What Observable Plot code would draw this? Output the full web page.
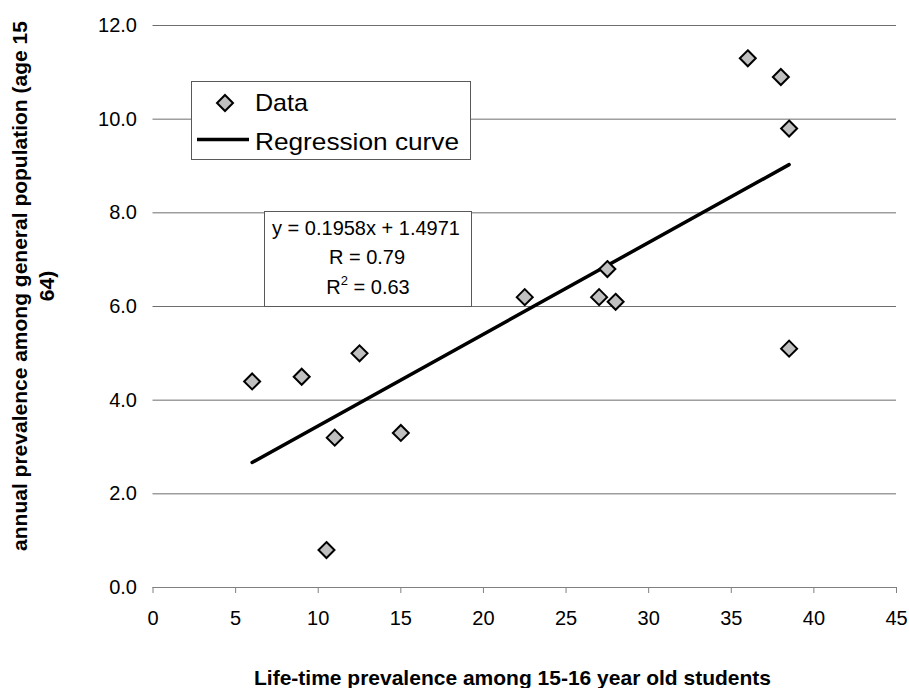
<!DOCTYPE html>
<html>
<head>
<meta charset="utf-8">
<script src="https://cdn.jsdelivr.net/npm/d3@7"></script>
<script src="https://cdn.jsdelivr.net/npm/@observablehq/plot@0.6"></script>
<style>
  body { margin: 0; background: #fff; }
  #chart svg { display: block; }
</style>
</head>
<body>
<div id="chart"></div>
<script>
// Data
const studentPrevalence = [6, 9, 10.5, 11, 12.5, 15, 22.5, 27, 27.5, 28, 36, 38, 38.5, 38.5];
const populationPrevalence = [4.4, 4.5, 0.8, 3.2, 5.0, 3.3, 6.2, 6.2, 6.8, 6.1, 11.3, 10.9, 9.8, 5.1];
const regressionX = [6, 38.5];
const regressionY = [2.67, 9.03];
const xTicks = [0, 5, 10, 15, 20, 25, 30, 35, 40, 45];
const yTicks = [0, 2, 4, 6, 8, 10, 12];
const legendLabels = ["Data", "Regression curve"];
const equationLines = ["y = 0.1958x + 1.4971", "R = 0.79", "R² = 0.63"];
const xTitle = "Life-time prevalence among 15-16 year old students";
const yTitleLines = ["annual prevalence among general population (age 15", "64)"];

const points = studentPrevalence.map((x, i) => ({x, y: populationPrevalence[i]}));
const regression = regressionX.map((x, i) => ({x, y: regressionY[i]}));

const FONT = "'Liberation Sans', Arial, Helvetica, sans-serif";
const W = 909, H = 688;

const chart = Plot.plot({
  width: W,
  height: H,
  marginLeft: 152.5,
  marginRight: 13,
  marginTop: 25,
  marginBottom: 101,
  style: {fontFamily: FONT, background: "#fff", overflow: "visible"},
  x: {domain: [0, 45]},
  y: {domain: [0, 12]},
  marks: [
    Plot.gridY(yTicks.filter(d => d > 0), {stroke: "#6e6e6e", strokeOpacity: 1, strokeWidth: 1}),
    Plot.ruleY([0], {stroke: "#808080", strokeWidth: 1}),
    Plot.axisX({ticks: xTicks, tickSize: 6, tickPadding: 17, stroke: "#808080", fontSize: 20, fill: "#000", label: null, tickFormat: d => String(d)}),
    Plot.axisY({ticks: yTicks, tickSize: 0, tickPadding: 16, fontSize: 20, fill: "#000", label: null, tickFormat: d => d.toFixed(1)}),
    Plot.line(regression, {x: "x", y: "y", stroke: "#000", strokeWidth: 3.5}),
    Plot.dot(points, {x: "x", y: "y", symbol: "diamond2", r: 7.2, fill: "#c0c0c0", stroke: "#000", strokeWidth: 2})
  ]
});

document.getElementById("chart").appendChild(chart);

const svg = d3.select(chart);

// Y title (rotated, two lines)
const yt = svg.append("text")
  .attr("transform", "translate(0,286) rotate(-90)")
  .attr("text-anchor", "middle")
  .style("font-family", FONT)
  .style("font-weight", "bold")
  .style("font-size", "21px")
  .attr("fill", "#000");
yt.append("tspan").attr("x", 0).attr("y", 27).text(yTitleLines[0]);
yt.append("tspan").attr("x", 0).attr("y", 54).text(yTitleLines[1]);

// X title
svg.append("text")
  .attr("x", 512.5).attr("y", 685)
  .attr("text-anchor", "middle")
  .style("font-family", FONT)
  .style("font-weight", "bold")
  .style("font-size", "21px")
  .attr("fill", "#000")
  .text(xTitle);

// Legend
const lg = svg.append("g").attr("text-anchor", "start");
lg.append("rect").attr("x", 191.5).attr("y", 81.5).attr("width", 279).attr("height", 78)
  .attr("fill", "#fff").attr("stroke", "#595959").attr("stroke-width", 1);
lg.append("path")
  .attr("d", d3.symbol(d3.symbolDiamond2, Math.PI * 7.2 * 7.2)())
  .attr("transform", "translate(225,103)")
  .attr("fill", "#c0c0c0").attr("stroke", "#000").attr("stroke-width", 2);
lg.append("line").attr("x1", 197).attr("x2", 249).attr("y1", 139.5).attr("y2", 139.5)
  .attr("stroke", "#000").attr("stroke-width", 3.5);
lg.append("text").attr("x", 255).attr("y", 111)
  .attr("text-anchor", "start")
  .attr("textLength", 53).attr("lengthAdjust", "spacingAndGlyphs")
  .style("font-family", FONT).style("font-size", "24px").attr("fill", "#000")
  .text(legendLabels[0]);
lg.append("text").attr("x", 255).attr("y", 150)
  .attr("text-anchor", "start")
  .attr("textLength", 204).attr("lengthAdjust", "spacingAndGlyphs")
  .style("font-family", FONT).style("font-size", "24px").attr("fill", "#000")
  .text(legendLabels[1]);

// Equation box
const eq = svg.append("g");
eq.append("rect").attr("x", 264.5).attr("y", 211.5).attr("width", 207).attr("height", 95)
  .attr("fill", "#fff").attr("stroke", "#595959").attr("stroke-width", 1);
const eqStyle = s => s.style("font-family", FONT).style("font-size", "20px").attr("fill", "#000").attr("text-anchor", "middle");
eq.append("text").attr("x", 366).attr("y", 235).call(eqStyle).text(equationLines[0]);
eq.append("text").attr("x", 367).attr("y", 264).call(eqStyle).text(equationLines[1]);
const r2 = eq.append("text").attr("x", 368).attr("y", 294).call(eqStyle);
r2.append("tspan").text("R");
r2.append("tspan").attr("dy", -9).style("font-size", "13px").text("2");
r2.append("tspan").attr("dy", 9).text(" = 0.63");
</script>
</body>
</html>
